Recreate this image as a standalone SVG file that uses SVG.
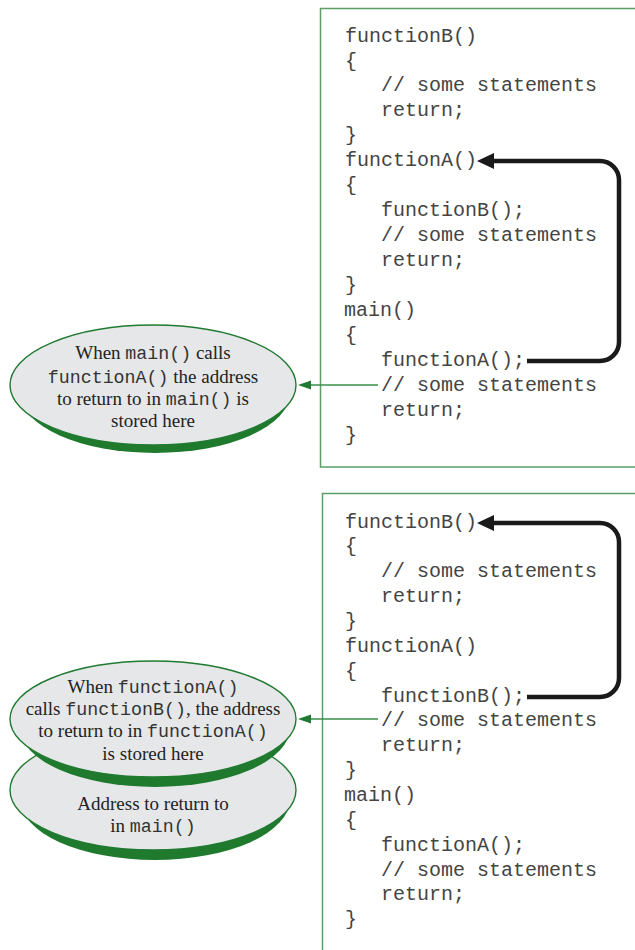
<svg xmlns="http://www.w3.org/2000/svg" width="635" height="950" viewBox="0 0 635 950">
<style>
.box{fill:#fff;stroke:#5a9e64;stroke-width:1.5}
.code{font-family:"Liberation Mono","Courier New",monospace;font-size:20px;fill:#444}
.lbl{font-family:"Liberation Serif","Times New Roman",serif;font-size:19px;fill:#222;text-anchor:middle}
.m{font-family:"Liberation Mono","Courier New",monospace;font-size:18.3px;fill:#333}
.face{fill:#e6e7e9;stroke:#217a31;stroke-width:1.4}
.shade{fill:#1f7a2e}
.blk{fill:none;stroke:#1a1a1a;stroke-width:4.5}
.grn{fill:none;stroke:#3a8f4a;stroke-width:1.4}
</style>
<defs>
<marker id="ah" markerWidth="18" markerHeight="16" refX="2" refY="8" orient="auto" markerUnits="userSpaceOnUse"><path d="M0,0 L17,8 L0,16 z" fill="#1a1a1a"/></marker>
<marker id="gh" markerWidth="14" markerHeight="10" refX="1" refY="4.5" orient="auto" markerUnits="userSpaceOnUse"><path d="M0,0 L13,4.5 L0,9 z" fill="#217a31"/></marker>
</defs>
<rect width="635" height="950" fill="#fff"/>

<g id="code-top">
<rect class="box" x="320.5" y="8.5" width="330" height="458.5"/>
<text class="code" x="345" y="41.5">functionB()</text>
<text class="code" x="345" y="66.5">{</text>
<text class="code" x="381" y="91.4">// some statements</text>
<text class="code" x="381" y="116.4">return;</text>
<text class="code" x="345" y="141.3">}</text>
<text class="code" x="345" y="166.3">functionA()</text>
<text class="code" x="345" y="191.2">{</text>
<text class="code" x="381" y="216.2">functionB();</text>
<text class="code" x="381" y="241.1">// some statements</text>
<text class="code" x="381" y="266.1">return;</text>
<text class="code" x="345" y="291">}</text>
<text class="code" x="344" y="316">main()</text>
<text class="code" x="345" y="340.9">{</text>
<text class="code" x="381" y="365.9">functionA();</text>
<text class="code" x="381" y="390.8">// some statements</text>
<text class="code" x="381" y="415.8">return;</text>
<text class="code" x="345" y="440.7">}</text>
</g>

<g id="code-bottom">
<rect class="box" x="322.5" y="493.5" width="330" height="470"/>
<text class="code" x="345" y="527.5">functionB()</text>
<text class="code" x="345" y="552.4">{</text>
<text class="code" x="381" y="577.2">// some statements</text>
<text class="code" x="381" y="602.1">return;</text>
<text class="code" x="345" y="626.9">}</text>
<text class="code" x="345" y="651.8">functionA()</text>
<text class="code" x="345" y="676.7">{</text>
<text class="code" x="381" y="701.5">functionB();</text>
<text class="code" x="381" y="726.4">// some statements</text>
<text class="code" x="381" y="751.2">return;</text>
<text class="code" x="345" y="776.1">}</text>
<text class="code" x="344" y="801">main()</text>
<text class="code" x="345" y="825.8">{</text>
<text class="code" x="381" y="850.7">functionA();</text>
<text class="code" x="381" y="875.5">// some statements</text>
<text class="code" x="381" y="900.4">return;</text>
<text class="code" x="345" y="925.3">}</text>
</g>

<g id="stack-top">
<ellipse class="shade" cx="155" cy="393" rx="135" ry="60"/>
<ellipse class="face" cx="153" cy="385" rx="143" ry="60"/>
<text class="lbl" x="153" y="359">When <tspan class="m">main()</tspan> calls</text>
<text class="lbl" x="153" y="383"><tspan class="m">functionA()</tspan> the address</text>
<text class="lbl" x="153" y="405">to return to in <tspan class="m">main()</tspan> is</text>
<text class="lbl" x="153" y="427">stored here</text>
</g>

<g id="stack-bottom-lower">
<ellipse class="shade" cx="155" cy="799" rx="135" ry="61"/>
<ellipse class="face" cx="153" cy="790" rx="143" ry="60"/>
<text class="lbl" x="153" y="810">Address to return to</text>
<text class="lbl" x="153" y="832">in <tspan class="m">main()</tspan></text>
</g>

<g id="stack-bottom-upper">
<ellipse class="shade" cx="155" cy="728" rx="135" ry="59"/>
<ellipse class="face" cx="153" cy="719" rx="143" ry="58"/>
<text class="lbl" x="153" y="693">When <tspan class="m">functionA()</tspan></text>
<text class="lbl" x="153" y="715">calls <tspan class="m">functionB()</tspan>, the address</text>
<text class="lbl" x="153" y="737">to return to in <tspan class="m">functionA()</tspan></text>
<text class="lbl" x="153" y="760">is stored here</text>
</g>

<g id="connectors">
<path class="blk" d="M527 361 H600 A19 19 0 0 0 619 342 V180 A19 19 0 0 0 600 161 H492" marker-end="url(#ah)"/>
<path class="blk" d="M527 697 H600 A19 19 0 0 0 619 678 V542 A19 19 0 0 0 600 523 H492" marker-end="url(#ah)"/>
<path class="grn" d="M378 385 H310" marker-end="url(#gh)"/>
<path class="grn" d="M378 719 H310" marker-end="url(#gh)"/>
</g>
</svg>
